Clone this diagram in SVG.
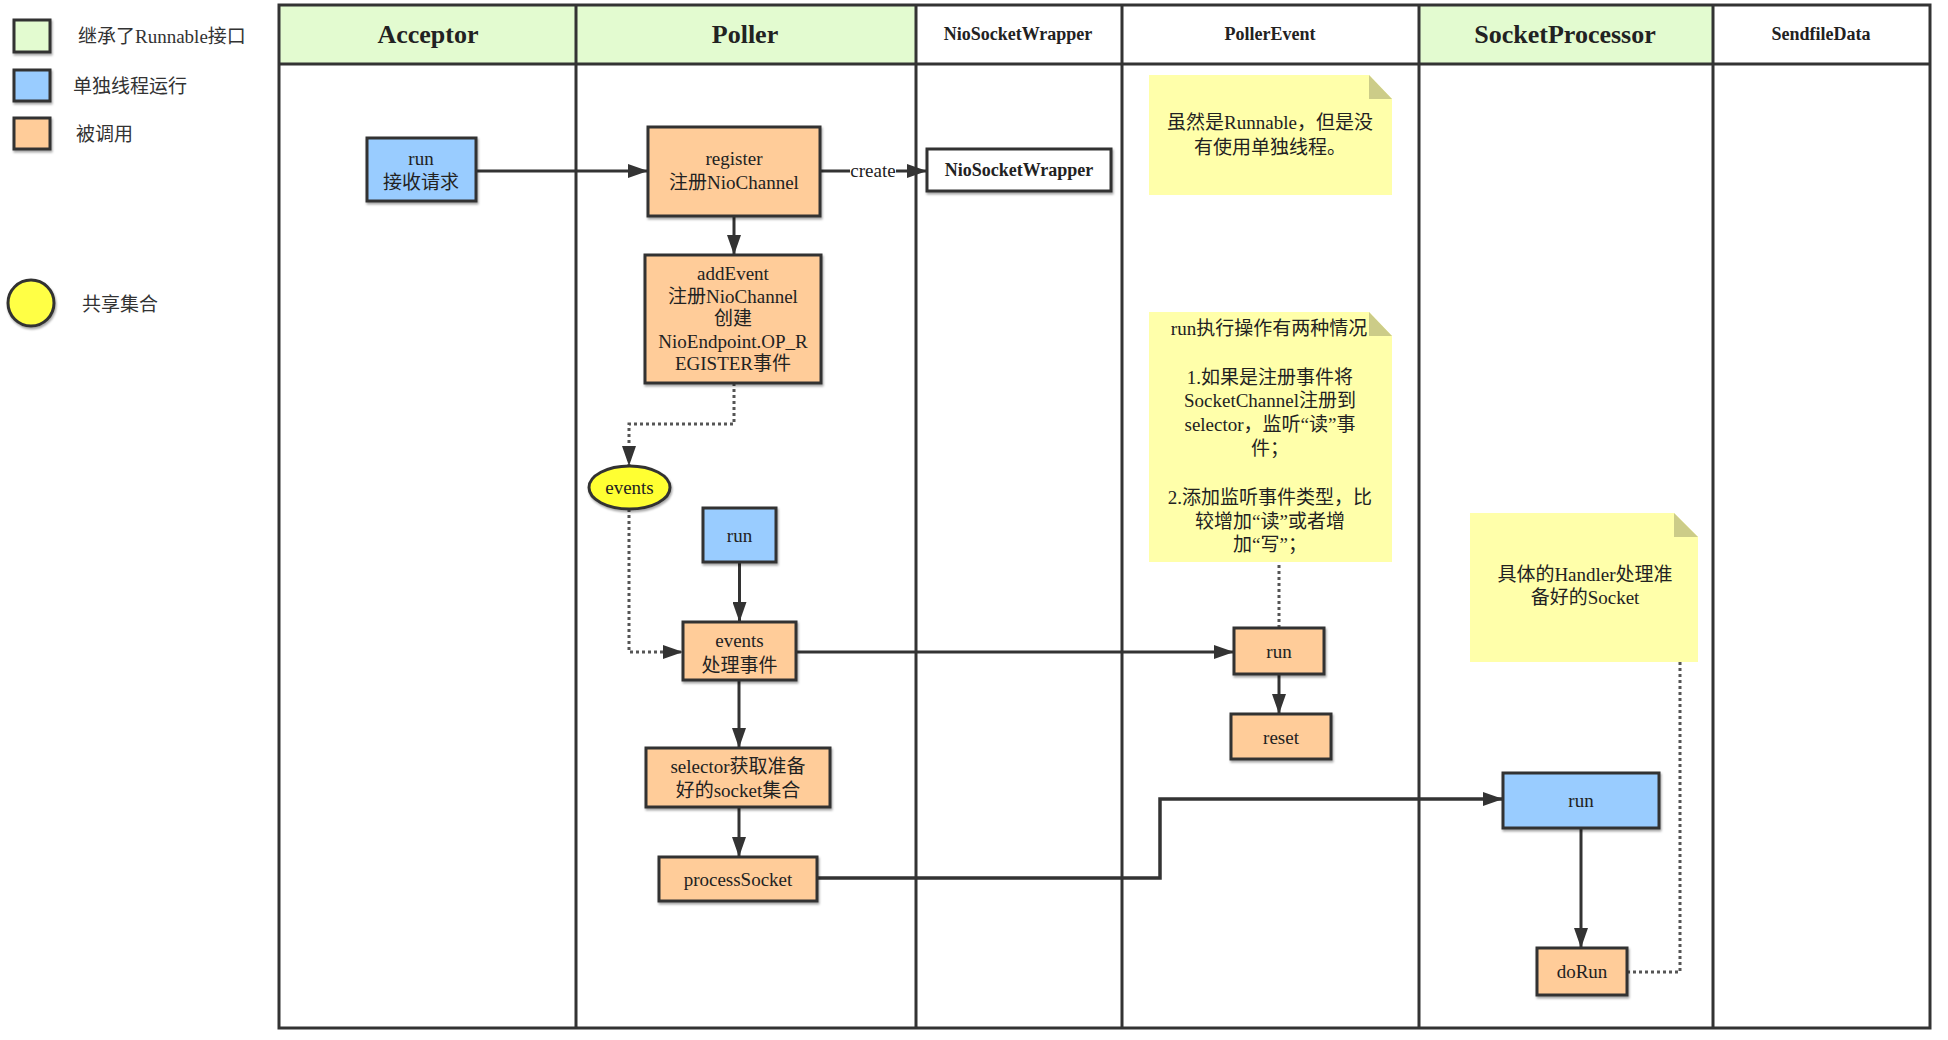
<svg xmlns="http://www.w3.org/2000/svg" width="1948" height="1040" viewBox="0 0 1948 1040">
<style>
text{font-family:"Liberation Serif","Noto Sans CJK SC",serif;fill:#222;font-size:19px;text-anchor:middle;dominant-baseline:central}
.lg{text-anchor:start;fill:#333}
.hb{font-weight:bold;font-size:26px}
.hs{font-weight:bold;font-size:18px}
.lane{fill:none;stroke:#333;stroke-width:3}
.box{stroke:#333;stroke-width:3;filter:url(#sh)}
.blue{fill:#99ccff}
.org{fill:#ffcc99}
.wht{fill:#fff}
.grn{fill:#e3fbd0}
.note{fill:#ffffaa}
.ear{fill:#cccc88}
.ln{fill:none;stroke:#333;stroke-width:3}
.dot{fill:none;stroke:#555;stroke-width:3;stroke-dasharray:3 3}
</style>
<defs>
<filter id="sh" x="-10%" y="-10%" width="130%" height="140%">
<feDropShadow dx="1" dy="2" stdDeviation="1" flood-color="#000" flood-opacity="0.35"/>
</filter>
<marker id="ar" markerUnits="userSpaceOnUse" markerWidth="20" markerHeight="14" refX="20" refY="7" orient="auto">
<path d="M0,0 L20,7 L0,14 z" fill="#333"/>
</marker>
</defs>
<rect width="1948" height="1040" fill="#fff"/>

<g id="legend">
<rect class="box grn" x="14" y="20" width="36" height="32"/>
<text class="lg" x="78" y="36">继承了Runnable接口</text>
<rect class="box blue" x="14" y="70" width="36" height="31"/>
<text class="lg" x="73" y="86">单独线程运行</text>
<rect class="box org" x="14" y="118" width="36" height="31"/>
<text class="lg" x="76" y="134">被调用</text>
<circle class="box" cx="31" cy="303" r="23" fill="#ffff44"/>
<text class="lg" x="82" y="304">共享集合</text>
</g>

<g id="lanes">
<rect class="grn" x="279" y="5" width="297" height="59"/>
<rect class="grn" x="576" y="5" width="340" height="59"/>
<rect class="grn" x="1419" y="5" width="294" height="59"/>
<rect class="lane" x="279" y="5" width="1651" height="1023"/>
<line class="lane" x1="279" y1="64" x2="1930" y2="64"/>
<line class="lane" x1="576" y1="5" x2="576" y2="1028"/>
<line class="lane" x1="916" y1="5" x2="916" y2="1028"/>
<line class="lane" x1="1122" y1="5" x2="1122" y2="1028"/>
<line class="lane" x1="1419" y1="5" x2="1419" y2="1028"/>
<line class="lane" x1="1713" y1="5" x2="1713" y2="1028"/>
<text class="hb" x="428" y="34">Acceptor</text>
<text class="hb" x="745" y="34">Poller</text>
<text class="hs" x="1018" y="34">NioSocketWrapper</text>
<text class="hs" x="1270" y="34">PollerEvent</text>
<text class="hb" x="1565" y="34">SocketProcessor</text>
<text class="hs" x="1821" y="34">SendfileData</text>
</g>

<g id="notes">
<g id="note1">
<path class="note" d="M1149,75 L1369,75 L1392,99 L1392,195 L1149,195 z"/>
<path class="ear" d="M1369,75 L1392,99 L1369,99 z"/>
<text x="1270" y="122">虽然是Runnable，但是没</text>
<text x="1270" y="147">有使用单独线程。</text>
</g>
<g id="note2">
<path class="note" d="M1149,312 L1369,312 L1392,336 L1392,562 L1149,562 z"/>
<path class="ear" d="M1369,312 L1392,336 L1369,336 z"/>
<text x="1269" y="328">run执行操作有两种情况</text>
<text x="1270" y="377">1.如果是注册事件将</text>
<text x="1270" y="400">SocketChannel注册到</text>
<text x="1270" y="424">selector，监听“读”事</text>
<text x="1270" y="448">件；</text>
<text x="1270" y="497">2.添加监听事件类型，比</text>
<text x="1270" y="521">较增加“读”或者增</text>
<text x="1270" y="544">加“写”；</text>
</g>
<g id="note3">
<path class="note" d="M1470,513 L1674,513 L1698,537 L1698,662 L1470,662 z"/>
<path class="ear" d="M1674,513 L1698,537 L1674,537 z"/>
<text x="1585" y="574">具体的Handler处理准</text>
<text x="1585" y="597">备好的Socket</text>
</g>
</g>

<g id="connectors">
<path class="ln" d="M476,171 L648,171" marker-end="url(#ar)"/>
<path class="ln" d="M820,171 L927,171" marker-end="url(#ar)"/>
<rect x="850" y="160" width="46" height="22" fill="#fff"/>
<text x="873" y="170">create</text>
<path class="ln" d="M734,216 L734,255" marker-end="url(#ar)"/>
<path class="dot" d="M734,383 L734,424 L629,424 L629,466" marker-end="url(#ar)"/>
<path class="dot" d="M629,509 L629,652 L683,652" marker-end="url(#ar)"/>
<path class="ln" d="M739.5,562 L739.5,622" marker-end="url(#ar)"/>
<path class="ln" d="M796,652 L1234,652" marker-end="url(#ar)"/>
<path class="ln" d="M739,680 L739,748" marker-end="url(#ar)"/>
<path class="ln" d="M739,807 L739,857" marker-end="url(#ar)"/>
<path class="ln" d="M817,878 L1160,878 L1160,799 L1503,799" style="stroke-width:3.5" marker-end="url(#ar)"/>
<path class="ln" d="M1279,674 L1279,714" marker-end="url(#ar)"/>
<path class="ln" d="M1581,828 L1581,948" marker-end="url(#ar)"/>
<path class="dot" d="M1279,565 L1279,628"/>
<path class="dot" d="M1680,662 L1680,972 L1627,972"/>
</g>

<g id="acceptor-run">
<rect class="box blue" x="367" y="138" width="109" height="63"/>
<text x="421" y="158">run</text>
<text x="421" y="182">接收请求</text>
</g>
<g id="register">
<rect class="box org" x="648" y="127" width="172" height="89"/>
<text x="734" y="158">register</text>
<text x="734" y="182">注册NioChannel</text>
</g>
<g id="niosocketwrapper">
<rect class="box wht" x="927" y="149" width="184" height="42"/>
<text class="hs" x="1019" y="170">NioSocketWrapper</text>
</g>
<g id="addevent">
<rect class="box org" x="645" y="255" width="176" height="128"/>
<text x="733" y="273">addEvent</text>
<text x="733" y="296">注册NioChannel</text>
<text x="733" y="318">创建</text>
<text x="733" y="341">NioEndpoint.OP_R</text>
<text x="733" y="363">EGISTER事件</text>
</g>
<g id="events-set">
<ellipse class="box" cx="629.5" cy="487.5" rx="40.5" ry="21.5" fill="#ffff33"/>
<text x="629.5" y="487">events</text>
</g>
<g id="poller-run">
<rect class="box blue" x="703" y="508" width="73" height="54"/>
<text x="739.5" y="535">run</text>
</g>
<g id="events-process">
<rect class="box org" x="683" y="622" width="113" height="58"/>
<text x="739.5" y="640">events</text>
<text x="739.5" y="665">处理事件</text>
</g>
<g id="selector">
<rect class="box org" x="646" y="748" width="184" height="59"/>
<text x="738" y="766">selector获取准备</text>
<text x="738" y="790">好的socket集合</text>
</g>
<g id="processsocket">
<rect class="box org" x="659" y="857" width="158" height="44"/>
<text x="738" y="879">processSocket</text>
</g>
<g id="pollerevent-run">
<rect class="box org" x="1234" y="628" width="90" height="46"/>
<text x="1279" y="651">run</text>
</g>
<g id="reset">
<rect class="box org" x="1231" y="714" width="100" height="45"/>
<text x="1281" y="737">reset</text>
</g>
<g id="socketprocessor-run">
<rect class="box blue" x="1503" y="773" width="156" height="55"/>
<text x="1581" y="800">run</text>
</g>
<g id="dorun">
<rect class="box org" x="1537" y="948" width="90" height="47"/>
<text x="1582" y="971">doRun</text>
</g>
</svg>
